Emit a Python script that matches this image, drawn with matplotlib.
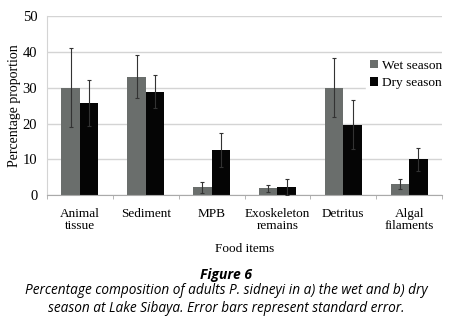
import matplotlib.pyplot as plt
import numpy as np

# data
categories = ["Animal\ntissue", "Sediment", "MPB", "Exoskeleton\nremains", "Detritus", "Algal\nfilaments"]
wet = [30.0, 33.0, 2.2, 1.9, 30.0, 3.1]
wet_err = [11.0, 6.0, 1.6, 1.1, 8.3, 1.4]
dry = [25.8, 28.8, 12.6, 2.4, 19.7, 10.1]
dry_err = [6.4, 4.6, 4.7, 2.2, 6.9, 3.2]

plt.rcParams['font.family'] = ['Liberation Serif', 'DejaVu Serif']

fig = plt.figure(figsize=(4.52, 3.31), dpi=100)
ax = fig.add_axes([0.104, 0.41, 0.874, 0.542])

x = np.arange(len(categories))
w = 0.28
ax.bar(x - w / 2, wet, w, color='#6a6e6c', label='Wet season', zorder=2)
ax.bar(x + w / 2, dry, w, color='#050505', label='Dry season', zorder=2)
ax.errorbar(x - w / 2, wet, yerr=wet_err, fmt='none', ecolor='#333333',
            elinewidth=0.8, capsize=1.5, capthick=0.8, zorder=3)
ax.errorbar(x + w / 2, dry, yerr=dry_err, fmt='none', ecolor='#333333',
            elinewidth=0.8, capsize=1.5, capthick=0.8, zorder=3)

ax.set_xlim(-0.5, len(categories) - 0.5)
ax.set_ylim(0, 50)
ax.set_yticks(np.arange(0, 51, 10))
ax.yaxis.grid(True, color='#d4d4d4', linewidth=1.0)
ax.set_axisbelow(True)

ax.set_xticks(x)
ax.set_xticklabels(categories, fontsize=9.5, linespacing=1.05)
ax.set_xticks(np.arange(-0.5, len(categories)), minor=True)
ax.tick_params(axis='x', which='major', length=0, pad=9)
ax.tick_params(axis='x', which='minor', length=3, color='#aaaaaa', direction='out')
ax.tick_params(axis='y', length=0, labelsize=10.5, pad=7)

for s in ['top', 'right']:
    ax.spines[s].set_visible(False)
ax.spines['left'].set_color('#d4d4d4')
ax.spines['bottom'].set_color('#aaaaaa')

ax.set_ylabel('Percentage proportion', fontsize=10)
ax.yaxis.set_label_coords(-0.067, 0.5)
ax.set_xlabel('Food items', fontsize=9.5, labelpad=8)

leg = ax.legend(loc='upper left', bbox_to_anchor=(0.79, 0.815), fontsize=9.6,
                handlelength=0.6, handleheight=0.6, handletextpad=0.3,
                labelspacing=0.4, borderpad=0.3, frameon=True, fancybox=False)
leg.get_frame().set_edgecolor('white')
leg.get_frame().set_facecolor('white')
leg.get_frame().set_alpha(1)

cap_font = ['Open Sans', 'DejaVu Sans']
fig.text(0.5, 1 - 275 / 331, 'Figure 6', ha='center', va='center', fontsize=10,
         fontweight='bold', style='italic', family=cap_font)
fig.text(0.5, 1 - 291 / 331,
         'Percentage composition of adults P. sidneyi in a) the wet and b) dry',
         ha='center', va='center', fontsize=9.8, style='italic', family=cap_font)
fig.text(0.5, 1 - 308 / 331,
         'season at Lake Sibaya. Error bars represent standard error.',
         ha='center', va='center', fontsize=9.8, style='italic', family=cap_font)

fig.savefig('out.png', dpi=100)
